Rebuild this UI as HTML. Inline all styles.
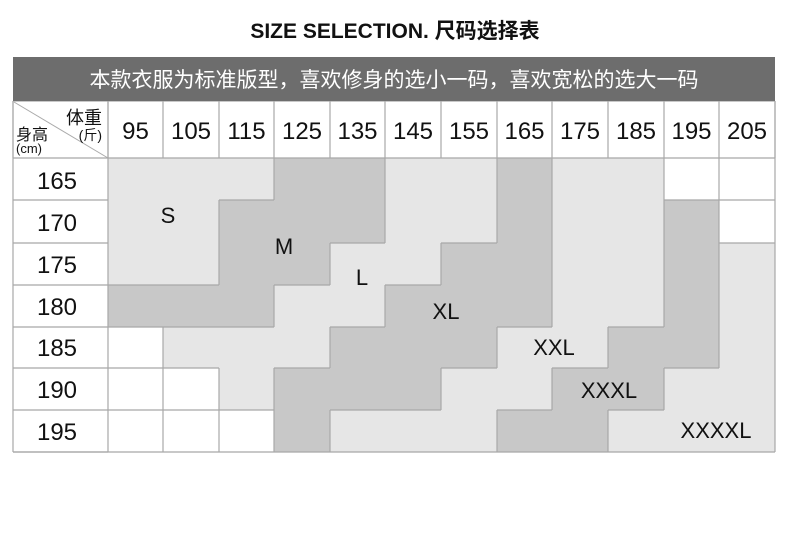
<!DOCTYPE html>
<html><head><meta charset="utf-8"><style>
body{margin:0;background:#fff;width:790px;height:530px;overflow:hidden}
text{font-family:"Liberation Sans","Noto Sans CJK SC",sans-serif}
</style></head><body>
<svg id="s" width="790" height="530" xmlns="http://www.w3.org/2000/svg">
<g id="cells"></g>
<rect x="13" y="57" width="762" height="44" fill="#6d6d6d"/>
<text x="395" y="38" text-anchor="middle" font-size="21" font-weight="bold" fill="#111">SIZE SELECTION. 尺码选择表</text>
<text x="394" y="87" text-anchor="middle" font-size="21" fill="#fff">本款衣服为标准版型，喜欢修身的选小一码，喜欢宽松的选大一码</text>
<line x1="14" y1="102" x2="108" y2="158" stroke="#aaa" stroke-width="1"/>
<text x="102" y="124" text-anchor="end" font-size="18" fill="#111">体重</text>
<text x="102" y="140" text-anchor="end" font-size="14" fill="#111">(斤)</text>
<text x="16" y="140" font-size="16" fill="#111">身高</text>
<text x="16" y="153" font-size="13" fill="#111">(cm)</text>
<g font-size="24" fill="#111" text-anchor="middle">
<text x="135.5" y="139">95</text><text x="191" y="139">105</text><text x="246.5" y="139">115</text><text x="302" y="139">125</text><text x="357.5" y="139">135</text><text x="413" y="139">145</text><text x="469" y="139">155</text><text x="524.5" y="139">165</text><text x="580" y="139">175</text><text x="636" y="139">185</text><text x="691.5" y="139">195</text><text x="747" y="139">205</text>
<text x="57" y="189">165</text><text x="57" y="231">170</text><text x="57" y="273">175</text><text x="57" y="315">180</text><text x="57" y="356">185</text><text x="57" y="398">190</text><text x="57" y="440">195</text>
</g>
<g font-size="22" fill="#111" text-anchor="middle">
<text x="168" y="223">S</text><text x="284" y="254">M</text><text x="362" y="285">L</text><text x="446" y="319">XL</text><text x="554" y="355">XXL</text><text x="609" y="398">XXXL</text><text x="716" y="438">XXXXL</text>
</g>
</svg>
<script>
var X=[13,108,163,219,274,330,385,441,497,552,608,664,719,775];
var Y=[101,158,200,243,285,327,368,410,452];
var G=["LLLDDLLDLLWW","LLDDDLLDLLDW","LLDDLLDDLLDL","DDDLLDDDLLDL","WLLLDDDLLDDL","WWLDDDLLDDLL","WWWDLLLDDLLL"];
var C={L:"#e6e6e6",D:"#c8c8c8",W:"#fff"};
var ns="http://www.w3.org/2000/svg",g=document.getElementById("cells");
function el(t,a){var e=document.createElementNS(ns,t);for(var k in a)e.setAttribute(k,a[k]);g.appendChild(e);return e;}
for(var r=0;r<7;r++)for(var c=0;c<12;c++)el("rect",{x:X[c+1],y:Y[r+1],width:X[c+2]-X[c+1],height:Y[r+2]-Y[r+1],fill:C[G[r][c]]});
var st="#a8a8a8";
function ln(a,b,c,d){el("line",{x1:a,y1:b,x2:c,y2:d,stroke:st,"stroke-width":1.2});}
for(var i=0;i<X.length;i++)ln(X[i],101,X[i],158);
for(var j=1;j<Y.length;j++)ln(13,Y[j],108,Y[j]);
ln(13,101,13,452);ln(108,101,108,452);ln(13,101,775,101);ln(775,101,775,452);ln(13,452,775,452);ln(108,158,775,158);
for(var r=0;r<7;r++)for(var c=0;c<12;c++){var v=G[r][c];
 if(c<11){var w=G[r][c+1];if(v!=w||v=="W")ln(X[c+2],Y[r+1],X[c+2],Y[r+2]);}
 if(r<6){var w=G[r+1][c];if(v!=w||v=="W")ln(X[c+1],Y[r+2],X[c+2],Y[r+2]);}
}
</script>
</body></html>
